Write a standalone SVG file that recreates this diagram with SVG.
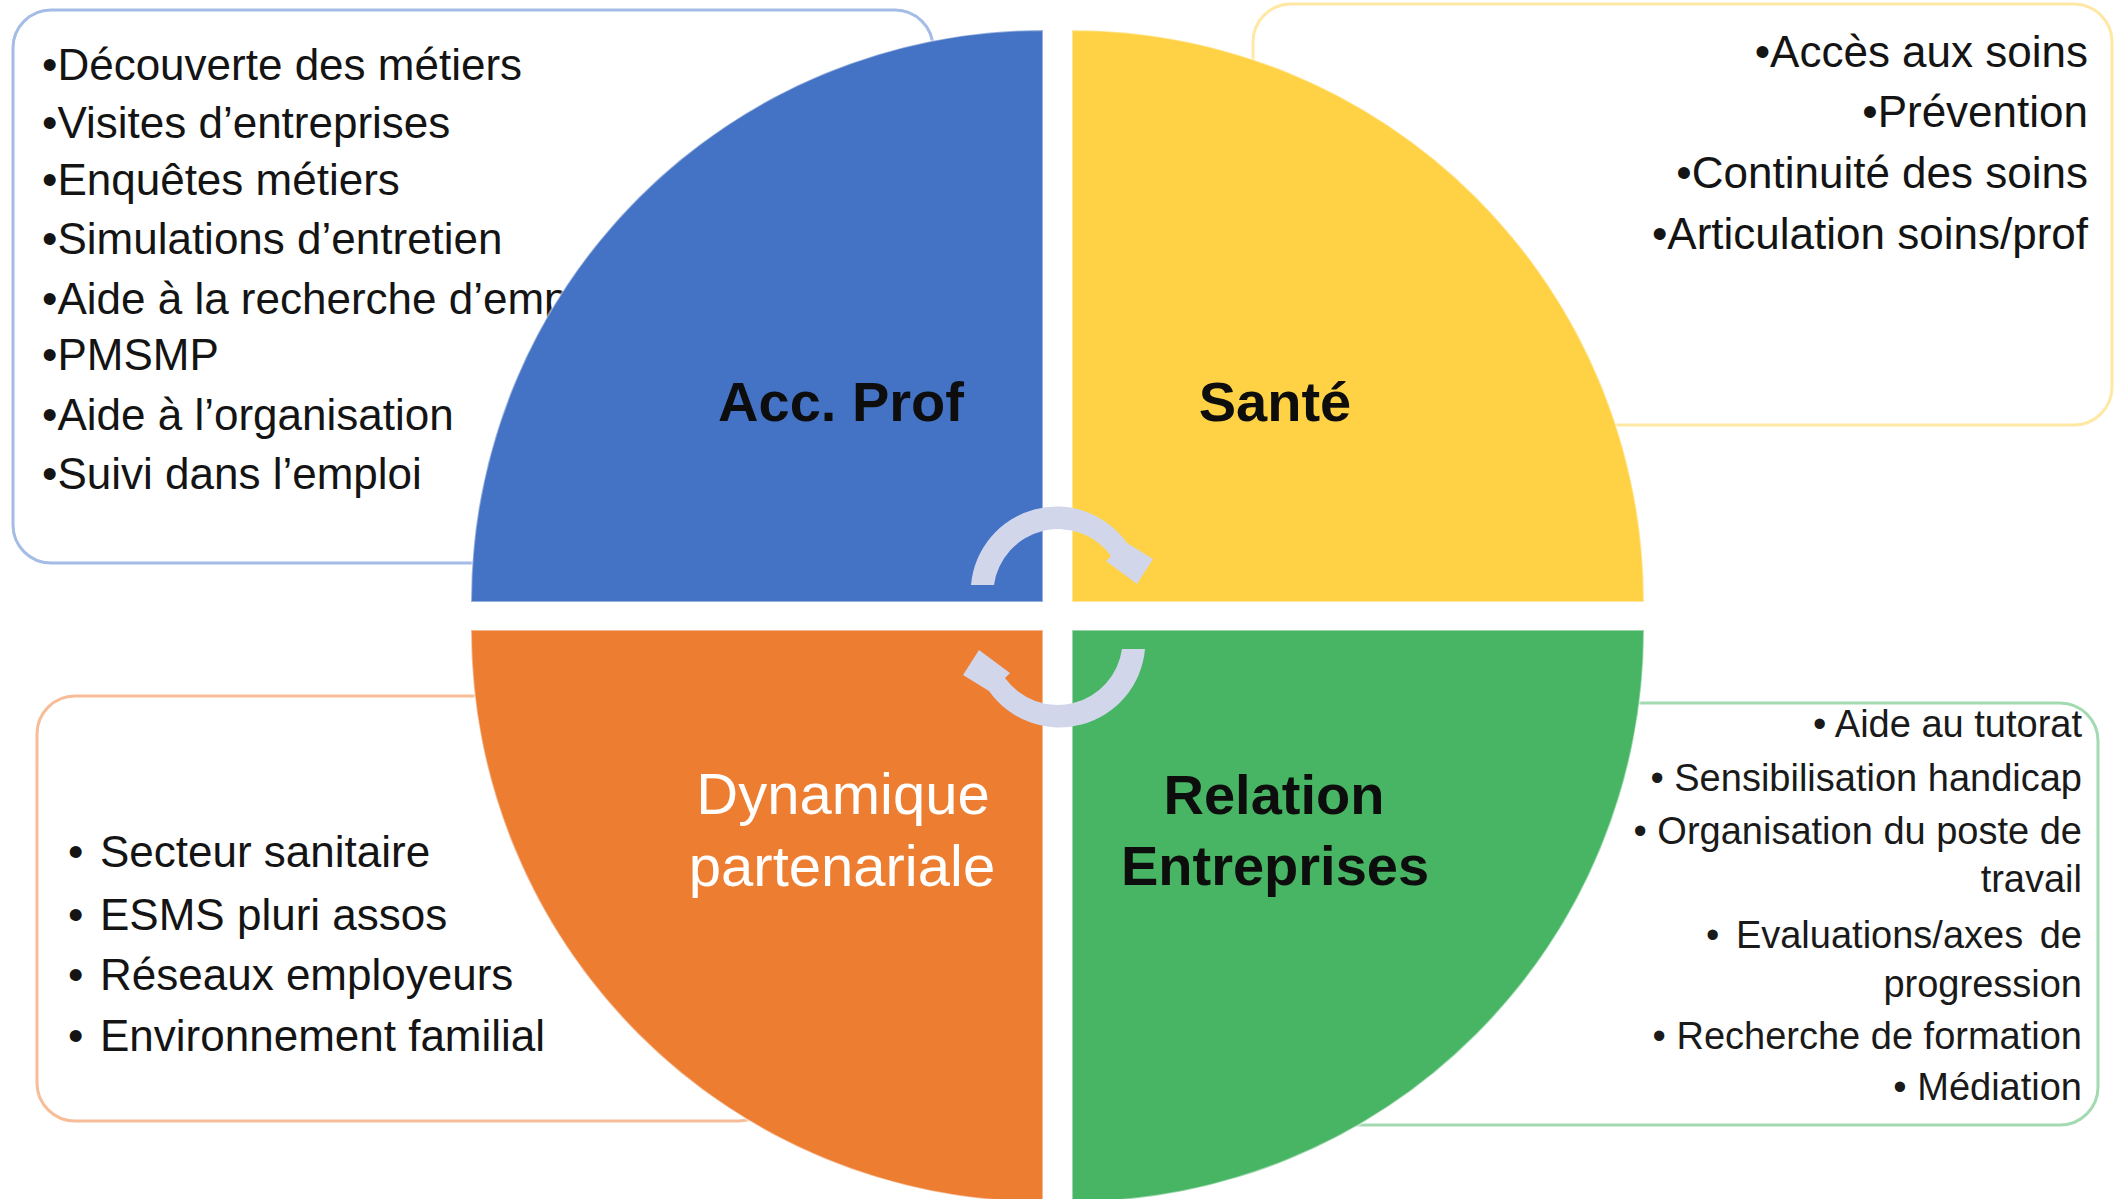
<svg xmlns="http://www.w3.org/2000/svg" width="2121" height="1199" viewBox="0 0 2121 1199">
<style>
  .box { fill: #ffffff; stroke-width: 3; }
  .item { font-family: "Liberation Sans", Arial, sans-serif; font-size: 44px; fill: #141414; }
  .item2 { font-family: "Liberation Sans", Arial, sans-serif; font-size: 38px; fill: #1a1a1a; }
  .lbl { font-family: "Liberation Sans", Arial, sans-serif; font-size: 56px; font-weight: bold; fill: #0d0d0d; text-anchor: middle; }
  .lblw { font-family: "Liberation Sans", Arial, sans-serif; font-size: 58px; fill: #ffffff; text-anchor: middle; }
  .quad { stroke: #ffffff; stroke-width: 2; stroke-opacity: 0.45; }
  .arrow { fill: #D1D6EB; }
</style>
<rect width="2121" height="1199" fill="#ffffff"/>

<g id="box-accprof">
  <rect class="box" x="13" y="10" width="920" height="553" rx="38" stroke="#A4BCE6"/>
  <text class="item" x="42" y="80">•Découverte des métiers</text>
  <text class="item" x="42" y="138">•Visites d’entreprises</text>
  <text class="item" x="42" y="195">•Enquêtes métiers</text>
  <text class="item" x="42" y="254">•Simulations d’entretien</text>
  <text class="item" x="42" y="314">•Aide à la recherche d’emploi</text>
  <text class="item" x="42" y="370">•PMSMP</text>
  <text class="item" x="42" y="430">•Aide à l’organisation</text>
  <text class="item" x="42" y="489">•Suivi dans l’emploi</text>
</g>

<g id="box-sante">
  <rect class="box" x="1253" y="4" width="859" height="421" rx="38" stroke="#FFE8A3"/>
  <g text-anchor="end">
    <text class="item" x="2088" y="67">•Accès aux soins</text>
    <text class="item" x="2088" y="127">•Prévention</text>
    <text class="item" x="2088" y="188">•Continuité des soins</text>
    <text class="item" x="2088" y="249">•Articulation soins/prof</text>
  </g>
</g>

<g id="box-dynamique">
  <rect class="box" x="37" y="696" width="740" height="425" rx="38" stroke="#F6BD98"/>
  <text class="item" x="68" y="867">•<tspan x="100">Secteur sanitaire</tspan></text>
  <text class="item" x="68" y="930">•<tspan x="100">ESMS pluri assos</tspan></text>
  <text class="item" x="68" y="990">•<tspan x="100">Réseaux employeurs</tspan></text>
  <text class="item" x="68" y="1051">•<tspan x="100">Environnement familial</tspan></text>
</g>

<g id="box-relation">
  <rect class="box" x="1310" y="703" width="788" height="422" rx="38" stroke="#A3DAB2"/>
  <g text-anchor="end">
    <text class="item2" x="2082" y="737">•  Aide au tutorat</text>
    <text class="item2" x="2082" y="791">•  Sensibilisation handicap</text>
    <text class="item2" x="2082" y="844">•  Organisation du poste de</text>
    <text class="item2" x="2082" y="892">travail</text>
    <text class="item2" x="2082" y="948" word-spacing="6">•  Evaluations/axes de</text>
    <text class="item2" x="2082" y="997">progression</text>
    <text class="item2" x="2082" y="1049">•  Recherche de formation</text>
    <text class="item2" x="2082" y="1100">•  Médiation</text>
  </g>
</g>

<g id="quad-accprof">
  <path class="quad" d="M 1043,602 L 471,602 A 572 572 0 0 1 1043,30 Z" fill="#4472C4"/>
  <text class="lbl" x="841" y="421">Acc. Prof</text>
</g>
<g id="quad-sante">
  <path class="quad" d="M 1072,602 L 1072,30 A 572 572 0 0 1 1644,602 Z" fill="#FFD246"/>
  <text class="lbl" x="1275" y="421">Santé</text>
</g>
<g id="quad-dynamique">
  <path class="quad" d="M 1043,630 L 1043,1202 A 572 572 0 0 1 471,630 Z" fill="#ED7D31"/>
  <text class="lblw" x="843" y="814">Dynamique</text>
  <text class="lblw" x="842" y="886">partenariale</text>
</g>
<g id="quad-relation">
  <path class="quad" d="M 1072,630 L 1644,630 A 572 572 0 0 1 1072,1202 Z" fill="#47B563"/>
  <text class="lbl" x="1274" y="814">Relation</text>
  <text class="lbl" x="1275" y="885">Entreprises</text>
</g>

<g id="connectors">
  <path id="arrow-top" class="arrow" d="M 994,585 L 971,585 A 86 86 0 0 1 1127,543 L 1153,559 L 1137,584 L 1106,561 L 1111,556 A 65 65 0 0 0 994,585 Z"/>
  <path id="arrow-bottom" class="arrow" transform="rotate(180 1058 617)" d="M 994,585 L 971,585 A 86 86 0 0 1 1127,543 L 1153,559 L 1137,584 L 1106,561 L 1111,556 A 65 65 0 0 0 994,585 Z"/>
</g>
</svg>
